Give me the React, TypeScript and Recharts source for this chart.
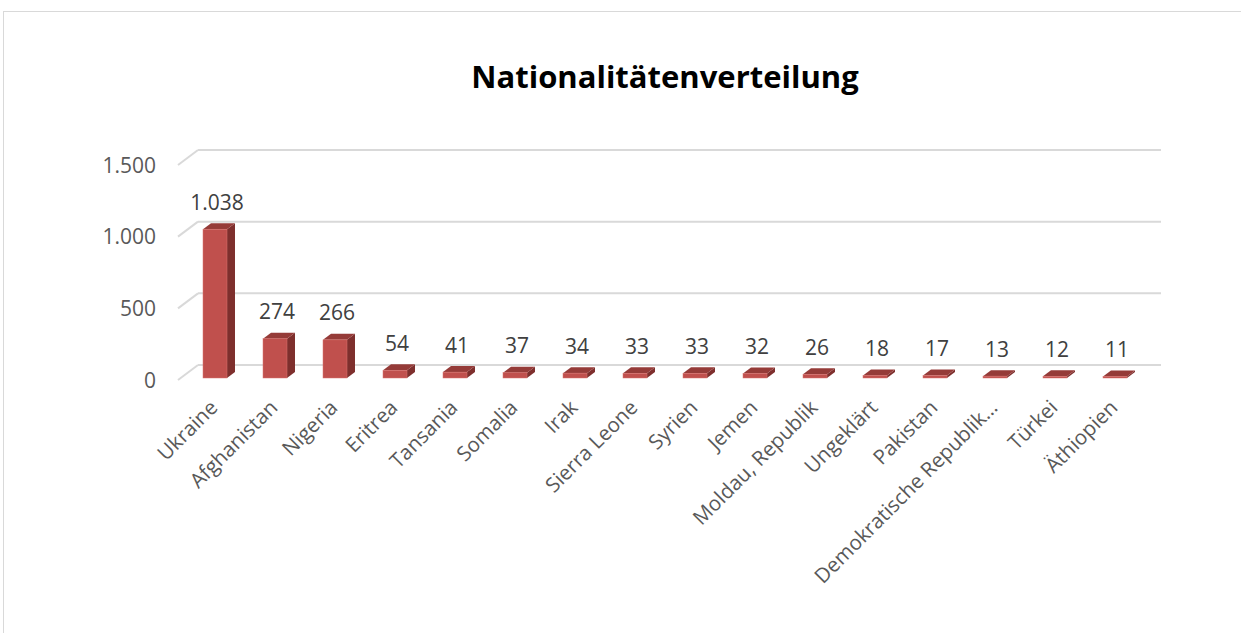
import React from 'react';
import { BarChart, Bar, XAxis, YAxis, CartesianGrid, LabelList } from 'recharts';

const countries = [
  'Ukraine',
  'Afghanistan',
  'Nigeria',
  'Eritrea',
  'Tansania',
  'Somalia',
  'Irak',
  'Sierra Leone',
  'Syrien',
  'Jemen',
  'Moldau, Republik',
  'Ungeklärt',
  'Pakistan',
  'Demokratische Republik…',
  'Türkei',
  'Äthiopien',
];
const persons = [1038, 274, 266, 54, 41, 37, 34, 33, 33, 32, 26, 18, 17, 13, 12, 11];
const yTicks = [0, 500, 1000, 1500];

const data = countries.map((name, i) => ({ name, value: persons[i] }));

const FONT = '"Open Sans", sans-serif';
const GRID = '#d9d9d9';
const DX = 8; // bar depth
const DY = 6;

// 1038 -> "1.038"
const fmt = (v: number) => String(v).replace(/\B(?=(\d{3})+(?!\d))/g, '.');

const Bar3D = (props: any) => {
  const { x, y, width, height } = props;
  if (height == null || width == null) return null;
  const r = x + width;
  const b = y + height;
  return (
    <g>
      <polygon points={`${r},${y} ${r + DX},${y - DY} ${r + DX},${b - DY} ${r},${b}`} fill="#7E2F2D" />
      <polygon points={`${x},${y} ${x + DX},${y - DY} ${r + DX},${y - DY} ${r},${y}`} fill="#953B38" />
      <rect x={x} y={y} width={width} height={height} fill="#C0504D" stroke="#D9736F" strokeWidth={0.5} />
    </g>
  );
};

// perspective gridline: short diagonal at the left wall, then along the back wall
const GridLine = (props: any) => {
  const { y1 } = props;
  return (
    <g key={`g-${y1}`}>
      <line x1={178} y1={y1 + 2} x2={198} y2={y1 - 13} stroke={GRID} strokeWidth={2} />
      <line x1={198} y1={y1 - 13} x2={1161} y2={y1 - 13} stroke={GRID} strokeWidth={2} />
    </g>
  );
};

const YTick = (props: any) => {
  const { y, payload } = props;
  return (
    <text x={156} y={y + 4} textAnchor="end" dominantBaseline="middle" fontSize={21} fill="#595959" fontFamily={FONT}>
      {fmt(payload.value)}
    </text>
  );
};

const XTick = (props: any) => {
  const { x, y, payload } = props;
  const ax = x;
  const ay = y + 19;
  return (
    <text
      x={ax}
      y={ay}
      textAnchor="end"
      dominantBaseline="middle"
      transform={`rotate(-45 ${ax} ${ay})`}
      fontSize={20.5}
      fill="#595959"
      fontFamily={FONT}
    >
      {payload.value}
    </text>
  );
};

const ValueLabel = (props: any) => {
  const { x, y, width, value } = props;
  return (
    <text
      x={x + width / 2 + 2}
      y={y - 25}
      textAnchor="middle"
      dominantBaseline="middle"
      fontSize={21}
      fill="#404040"
      fontFamily={FONT}
    >
      {fmt(value)}
    </text>
  );
};

export default function App() {
  return (
    <div style={{ position: 'absolute', left: 0, top: 0, width: 1241, height: 633, overflow: 'hidden', background: '#fff' }}>
      <div
        style={{
          position: 'absolute',
          left: 3,
          top: 11,
          width: 1400,
          height: 800,
          border: '1.5px solid #d9d9d9',
        }}
      />
      <div
        style={{
          position: 'absolute',
          left: 0,
          width: 1330,
          top: 56,
          textAlign: 'center',
          fontFamily: FONT,
          fontWeight: 700,
          fontSize: 31,
          color: '#000',
          lineHeight: '40px',
        }}
      >
        Nationalitätenverteilung
      </div>
      <div style={{ position: 'absolute', left: 0, top: 0 }}>
        <BarChart width={1241} height={633} data={data} margin={{ top: 163, right: 96, left: 0, bottom: 0 }}>
          <CartesianGrid vertical={false} horizontal={GridLine} />
          <XAxis dataKey="name" interval={0} axisLine={false} tickLine={false} height={255} tick={XTick} />
          <YAxis
            domain={[0, 1500]}
            ticks={yTicks}
            width={185}
            axisLine={false}
            tickLine={false}
            tick={YTick}
          />
          <Bar dataKey="value" barSize={24} shape={Bar3D} isAnimationActive={false}>
            <LabelList dataKey="value" content={ValueLabel} />
          </Bar>
        </BarChart>
      </div>
    </div>
  );
}
